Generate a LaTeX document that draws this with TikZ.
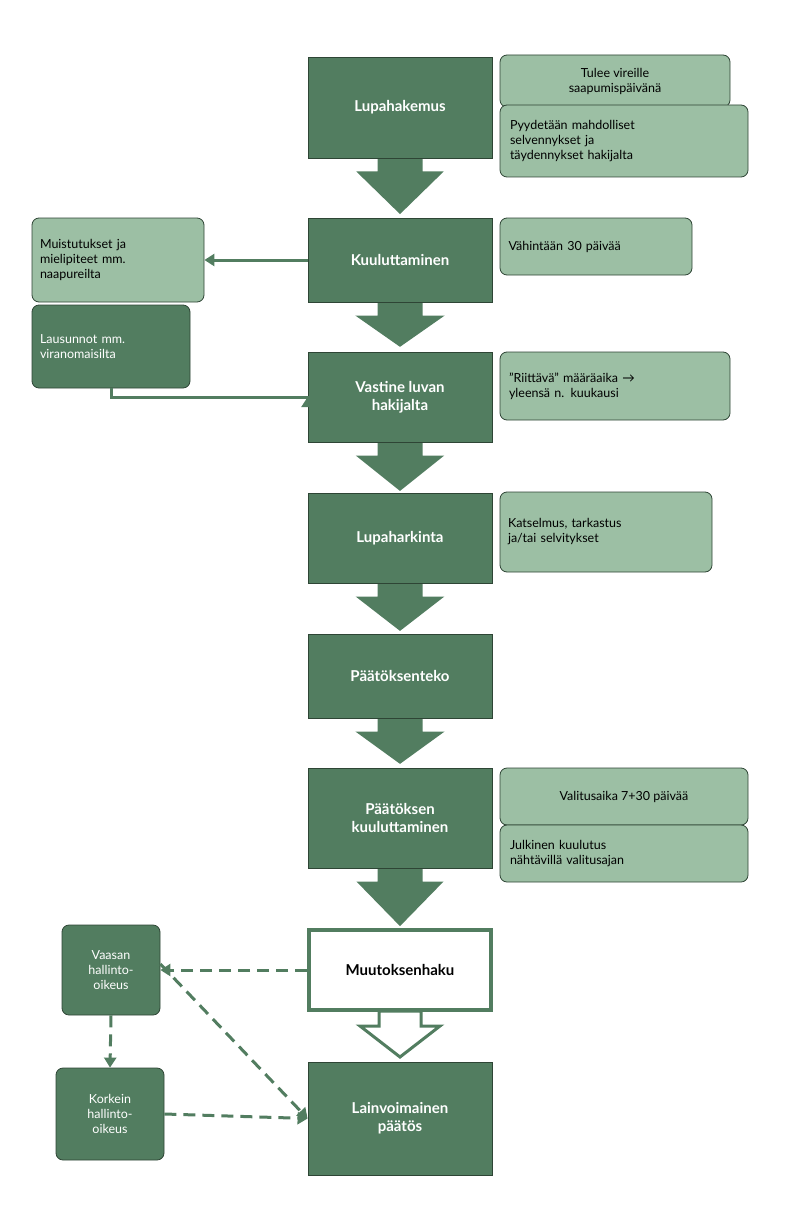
\documentclass[tikz,border=0pt]{standalone}
\usepackage{fontspec}
\setmainfont{Lato}
\usetikzlibrary{arrows.meta}
\definecolor{dk}{HTML}{527D60}
\definecolor{lt}{HTML}{9CBFA4}
\definecolor{bd}{HTML}{2E4535}
\begin{document}
\begin{tikzpicture}[x=1pt,y=-1pt,
 main/.style={draw=bd,line width=0.8pt,fill=dk,text=white,font=\fontsize{15}{18}\selectfont\bfseries,align=center,inner sep=0},
 side/.style={draw=bd,line width=0.8pt,fill=lt,text=black,font=\fontsize{12.5}{15}\selectfont,align=center,rounded corners=7pt,inner sep=0},
 sidel/.style={side,align=left,text width=#1},
 dside/.style={side,fill=dk,text=white},
 con/.style={dk,line width=3pt,-{Triangle[length=10pt,width=12pt]}},
 dcon/.style={con,dash pattern=on 12pt off 7pt}]
\useasboundingbox (0,0) rectangle (800,1217);
\newcommand{\barrow}[3][dk]{\filldraw[fill=#1,draw=dk,line width=3pt] (379,#2) -- (421,#2) -- (421,#2+15) -- (440,#2+15) -- (400,#3) -- (360,#2+15) -- (379,#2+15) -- cycle;}
\barrow{158}{212}
\barrow{302}{345}
\barrow{442}{489}
\barrow{583}{629}
\barrow{718}{762}
\barrow{868}{924}
\barrow[white]{1011}{1057}
\node[main,minimum width=184,minimum height=101] (a) at (400,107.5) {Lupahakemus};
\node[main,minimum width=184,minimum height=84] (b) at (400,260) {Kuuluttaminen};
\node[main,minimum width=184,minimum height=90] (c) at (400,397) {Vastine luvan\\hakijalta};
\node[main,minimum width=184,minimum height=90] (d) at (400,538) {Lupaharkinta};
\node[main,minimum width=184,minimum height=84] (e) at (400,676) {Päätöksenteko};
\node[main,minimum width=184,minimum height=100] (f) at (400,818) {Päätöksen\\kuuluttaminen};
\node[main,draw=dk,line width=4pt,fill=white,text=black,minimum width=182,minimum height=80] (g) at (400,970) {Muutoksenhaku};
\node[main,minimum width=184,minimum height=113] (h) at (400,1118.5) {Lainvoimainen\\päätös};
\node[side,minimum width=230,minimum height=52] (s1) at (615,81) {Tulee vireille\\saapumispäivänä};
\node[sidel=228,minimum width=248,minimum height=72] (s2) at (624,141) {Pyydetään mahdolliset\\selvennykset ja\\täydennykset hakijalta};
\node[sidel=175,minimum width=192,minimum height=57] (s3) at (596,246.5) {Vähintään 30 päivää};
\node[sidel=212,minimum width=230,minimum height=68] (s4) at (615,386) {”Riittävä” määräaika \textrm{→}\\yleensä n. kuukausi};
\node[sidel=196,minimum width=212,minimum height=80] (s5) at (606,532) {Katselmus, tarkastus\\ja/tai selvitykset};
\node[side,minimum width=248,minimum height=57] (s6) at (624,796.5) {Valitusaika 7+30 päivää};
\node[sidel=228,minimum width=248,minimum height=57] (s7) at (624,853.5) {Julkinen kuulutus\\nähtävillä valitusajan};
\node[sidel=156,minimum width=172,minimum height=84] (l1) at (118,260) {Muistutukset ja\\mielipiteet mm.\\naapureilta};
\node[dside,align=left,text width=142,minimum width=158,minimum height=83] (l2) at (111,346.5) {Lausunnot mm.\\viranomaisilta\\[1.2em]};
\node[dside,minimum width=98,minimum height=90] (v) at (111,970) {Vaasan\\hallinto-\\oikeus};
\node[dside,minimum width=108,minimum height=92] (k) at (110,1114) {Korkein\\hallinto-\\oikeus};
\draw[con] (b.west) -- (l1.east);
\draw[con] (l2.south) -- ++(0,9) -| (c.west);
\draw[dcon] (g.west) -- (v.east);
\draw[dcon] (v.south) -- (k.north);
\draw[dcon] (v.east) ++(0,-6) -- (h.west);
\draw[dcon] (k.east) -- (h.west);
\end{tikzpicture}
\end{document}
